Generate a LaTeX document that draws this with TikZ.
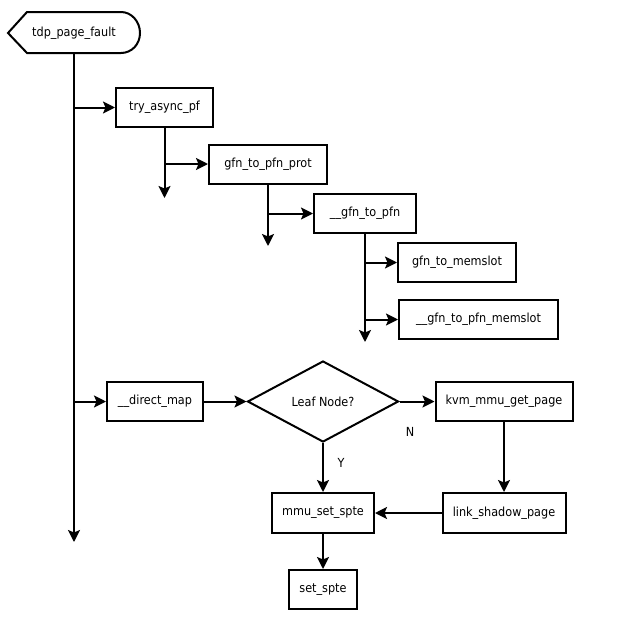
\documentclass[tikz,border=0pt]{standalone}
\usepackage{fontspec}
\setmainfont{DejaVu Sans}[FakeStretch=0.9]
\usetikzlibrary{shapes.geometric,arrows.meta}

\begin{document}
\begin{tikzpicture}[
    x=1pt, y=-1pt,
    func/.style={rectangle, draw, line width=2pt, inner sep=0pt, minimum height=39pt, font=\fontsize{12.5}{15}\selectfont},
    decision/.style={diamond, draw, line width=2pt, inner sep=0pt, minimum width=151pt, minimum height=81pt, font=\fontsize{12.5}{15}\selectfont},
    arrow/.style={-{Stealth[length=12pt, width=12pt, inset=2.5pt]}, line width=2pt},
    lbl/.style={font=\fontsize{12.5}{15}\selectfont}
]
    \useasboundingbox (0,0) rectangle (617,621);

    % Entry point
    \draw[line width=2pt] (8,33) -- (27,12) -- (121,12) .. controls (131.5,12) and (140,21.5) .. (140,33)
        .. controls (140,44.5) and (131.5,53) .. (121,53) -- (27,53) -- cycle;
    \node[lbl, inner sep=0pt, minimum height=41pt] (entry) at (74,33) {tdp\_page\_fault};
    \coordinate (mainend) at (74,542);
    \draw[arrow] (entry.south) -- (mainend);

    % Async page fault path
    \node[func, minimum width=97pt] (try) at (164.5,107.5) {try\_async\_pf};
    \node[func, minimum width=118pt] (prot) at (268,164) {gfn\_to\_pfn\_prot};
    \node[func, minimum width=102pt] (gfn) at (365,213.5) {\_\_gfn\_to\_pfn};
    \node[func, minimum width=118pt] (memslot) at (457,262.5) {gfn\_to\_memslot};
    \node[func, minimum width=159pt] (pfnmem) at (478.5,319.5) {\_\_gfn\_to\_pfn\_memslot};
    \coordinate (tryend) at (164.5,198);
    \coordinate (protend) at (268,246);
    \coordinate (gfnend) at (365,342);

    \draw[arrow] (entry.south |- try) -- (try.west);
    \draw[arrow] (try.south) -- (tryend);
    \draw[arrow] (try.south |- prot) -- (prot.west);
    \draw[arrow] (prot.south) -- (protend);
    \draw[arrow] (prot.south |- gfn) -- (gfn.west);
    \draw[arrow] (gfn.south) -- (gfnend);
    \draw[arrow] (gfn.south |- memslot) -- (memslot.west);
    \draw[arrow] (gfn.south |- pfnmem) -- (pfnmem.west);

    % Direct map path
    \node[func, minimum width=96pt] (direct) at (155,401.5) {\_\_direct\_map};
    \node[decision] (leaf) at (323,401.5) {Leaf Node?};
    \node[func, minimum width=137pt] (getpage) at (504,401.5) {kvm\_mmu\_get\_page};
    \node[func, minimum width=102pt, minimum height=40pt] (mmuset) at (323,513) {mmu\_set\_spte};
    \node[func, minimum width=123pt, minimum height=40pt] (link) at (504,513) {link\_shadow\_page};
    \node[func, minimum width=68pt] (setspte) at (323,589.5) {set\_spte};
    \node[lbl] (no) at (410,432) {N};
    \node[lbl] (yes) at (341,463) {Y};

    \draw[arrow] (entry.south |- direct) -- (direct.west);
    \draw[arrow] (direct.east) -- (leaf.west);
    \draw[arrow] (leaf.east) -- (getpage.west);
    \draw[arrow] (leaf.south) -- (mmuset.north);
    \draw[arrow] (getpage.south) -- (link.north);
    \draw[arrow] (link.west) -- (mmuset.east);
    \draw[arrow] (mmuset.south) -- (setspte.north);
\end{tikzpicture}
\end{document}
